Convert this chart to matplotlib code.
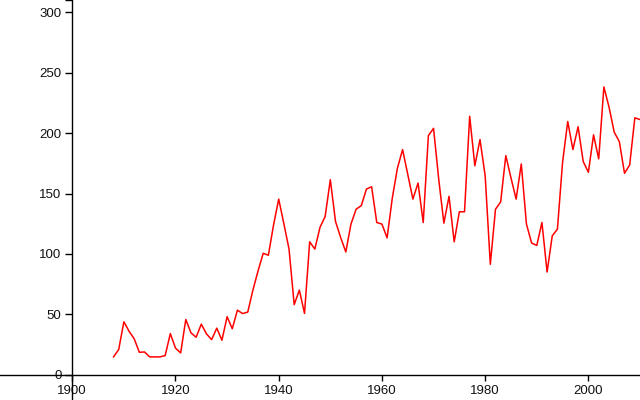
import numpy as np
import matplotlib
matplotlib.use("Agg")
import matplotlib.pyplot as plt

plt.rcParams['font.family'] = ['Liberation Sans', 'DejaVu Sans']

# yearly values, 1908 onwards
start_year = 1908
values = [14.7, 20.8, 43.8, 36, 29.7, 18.5, 18.8, 14.7, 14.7, 14.7,
          15.8, 34, 22, 18, 45.7, 34.6, 31, 41.8, 33.8, 29,
          38.5, 28.5, 48, 38, 53.4, 50.6, 51.8, 70, 86, 100.5,
          98.9, 124, 145.4, 125, 104, 58, 70, 50.7, 110, 104,
          122, 131, 161.5, 127, 113.6, 101.6, 124.7, 137, 140, 153.7,
          155.6, 126, 124.7, 113.3, 146, 171, 186.4, 166, 145.4, 158.7,
          126, 198, 204, 162, 125.5, 147.7, 110, 134.9, 134.9, 214,
          173, 194.7, 164.8, 91.4, 137, 143, 181.4, 163, 145.4, 174.5,
          124.7, 109, 107, 126, 85, 115, 120.5, 176, 209.7, 186.4,
          205.3, 176.5, 167.6, 198.6, 178.7, 238.3, 221.6, 200.9, 193, 166.8,
          173.7, 212.7, 211.3]
years = np.arange(start_year, start_year + len(values))

x_ticks = [1900, 1920, 1940, 1960, 1980, 2000]
y_ticks = [0, 50, 100, 150, 200, 250, 300]

fig = plt.figure(figsize=(6.4, 4), dpi=100)
ax = fig.add_axes([0, 0, 1, 1])
ax.set_facecolor('none')

ax.plot(years, values, color='#ff0000', lw=1.1)

ax.set_xlim(1886, 2010)
ax.set_ylim(-21, 310.3)

ax.spines['top'].set_visible(False)
ax.spines['right'].set_visible(False)
ax.spines['left'].set_position(('data', 1900))
ax.spines['bottom'].set_position(('data', 0))
for s in ('left', 'bottom'):
    ax.spines[s].set_linewidth(1.0)
    ax.spines[s].set_color('black')

ax.set_xticks(x_ticks)
ax.set_yticks(y_ticks + [310.3])
ax.set_yticklabels([str(v) for v in y_ticks] + [''])
ax.tick_params(axis='both', direction='out', width=1.0, color='black',
               labelsize=9.5, labelcolor='#111111')
ax.tick_params(axis='y', length=5, pad=2.8)
ax.tick_params(axis='x', length=4, pad=3.5)

fig.savefig('out.png', dpi=100)
